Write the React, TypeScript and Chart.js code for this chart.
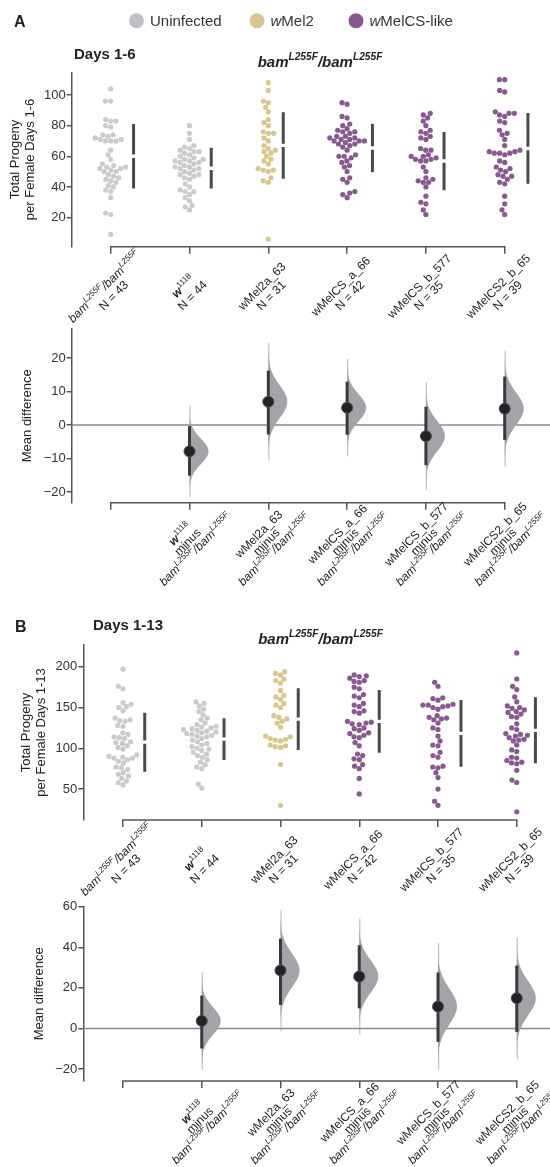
import React, { useEffect, useRef } from "react";
import { Chart, registerables } from "chart.js";
Chart.register(...registerables);

const FONT = '"Liberation Sans", Arial, Helvetica, sans-serif';
const AXIS = "#555555";
const TEXT = "#222222";

// ---------------- data ----------------
const groupNames = ["bam", "w1118", "wMel2a_63", "wMelCS_a_66", "wMelCS_b_577", "wMelCS2_b_65"];
const groupN = [43, 44, 31, 42, 35, 39];
const groupColors = ["#cbcbcd", "#cbcbcd", "#d8c68d", "#87598f", "#87598f", "#87598f"];
const legendNames = ["Uninfected", "wMel2", "wMelCS-like"];
const legendColors = ["#bfc0c4", "#d6c692", "#86588c"];

// Panel A: total progeny per female, days 1-6
const aBam = [104, 96, 96, 84, 83, 83, 80, 79, 74, 74, 73, 72, 71, 71, 70, 70, 70, 64, 61, 58, 55, 54, 53, 53, 52, 52, 51, 50, 50, 48, 47, 46, 45, 44, 43, 41, 40, 38, 37, 33, 23, 22, 9];
const aW1118 = [80, 75, 71, 67, 66, 65, 64, 63, 63, 62, 61, 60, 59, 58, 58, 57, 57, 56, 56, 55, 54, 53, 53, 52, 52, 51, 50, 49, 48, 48, 47, 46, 45, 42, 40, 38, 37, 37, 35, 33, 31, 28, 27, 25];
const aWMel2a = [108, 103, 96, 95, 92, 89, 84, 82, 80, 76, 75, 75, 72, 70, 67, 65, 64, 63, 62, 60, 58, 57, 55, 52, 51, 51, 50, 46, 44, 43, 6];
const aWMelCSa = [95, 94, 86, 85, 81, 80, 78, 77, 76, 76, 75, 73, 73, 72, 72, 71, 71, 70, 70, 70, 69, 68, 68, 67, 66, 64, 61, 60, 60, 59, 57, 56, 54, 53, 50, 46, 45, 43, 37, 36, 35, 33];
const aWMelCSb = [88, 87, 85, 83, 80, 77, 76, 75, 73, 72, 71, 65, 64, 64, 61, 60, 60, 59, 58, 58, 57, 57, 53, 50, 46, 45, 44, 43, 43, 40, 34, 30, 29, 25, 22];
const aWMelCS2 = [110, 110, 103, 102, 89, 88, 88, 87, 86, 83, 82, 77, 75, 74, 71, 67, 64, 63, 63, 62, 62, 62, 61, 57, 56, 53, 52, 51, 50, 48, 47, 47, 45, 43, 42, 34, 29, 25, 22];
const aMeans = [60.0, 52.2, 67.1, 65.4, 56.9, 65.1];
const aSds = [21.1, 13.3, 21.7, 15.8, 19.0, 23.1];
const aDiff = [-7.85, 7.0, 5.2, -3.3, 4.9];
const aCiLow = [-15.1, -2.8, -2.9, -12.0, -4.4];
const aCiHigh = [-0.3, 16.3, 13.0, 5.5, 14.5];

// Panel B: total progeny per female, days 1-13
const bBam = [197, 176, 173, 156, 154, 151, 150, 146, 137, 135, 134, 133, 128, 127, 119, 117, 114, 113, 112, 108, 107, 106, 103, 101, 99, 92, 90, 89, 88, 88, 86, 84, 82, 77, 76, 74, 70, 68, 66, 63, 60, 58, 55];
const bW1118 = [157, 155, 152, 148, 145, 141, 137, 135, 131, 129, 127, 126, 125, 124, 123, 122, 121, 120, 119, 118, 117, 116, 115, 114, 112, 110, 108, 106, 104, 102, 100, 99, 97, 95, 93, 91, 89, 86, 83, 80, 77, 75, 56, 51];
const bWMel2a = [194, 192, 190, 185, 183, 180, 171, 165, 163, 160, 155, 153, 150, 140, 138, 136, 133, 131, 126, 115, 114, 112, 111, 110, 109, 104, 103, 102, 101, 80, 30];
const bWMelCSa = [190, 189, 188, 186, 183, 182, 181, 175, 173, 166, 164, 162, 155, 153, 151, 146, 145, 143, 133, 132, 131, 130, 129, 125, 124, 122, 119, 118, 116, 114, 113, 107, 103, 93, 91, 87, 86, 80, 78, 75, 63, 44];
const bWMelCSb = [181, 176, 162, 161, 159, 154, 153, 153, 152, 151, 150, 148, 140, 138, 137, 136, 135, 131, 125, 123, 115, 109, 104, 103, 95, 91, 89, 78, 77, 76, 70, 64, 50, 35, 30];
const bWMelCS2 = [217, 185, 176, 172, 163, 157, 152, 150, 149, 147, 145, 144, 142, 139, 138, 130, 125, 123, 118, 117, 116, 115, 113, 111, 110, 109, 104, 98, 96, 89, 88, 85, 83, 82, 81, 73, 61, 58, 22];
const bMeans = [107.5, 111.2, 135.7, 133.0, 118.3, 122.0];
const bSds = [36.2, 25.6, 37.8, 38.4, 40.9, 40.5];
const bDiff = [3.7, 28.6, 25.6, 10.8, 14.9];
const bCiLow = [-9.9, 11.6, 9.9, -6.6, -1.7];
const bCiHigh = [16.2, 44.3, 41.0, 27.6, 31.0];

// tick values
const aSwarmTicks = [20, 40, 60, 80, 100];
const aDiffTicks = [-20, -10, 0, 10, 20];
const bSwarmTicks = [50, 100, 150, 200];
const bDiffTicks = [-20, 0, 20, 40, 60];

// ---------------- rich text helpers ----------------
type Seg = { t: string; i?: boolean; b?: boolean; sup?: boolean };
const bamSegs: Seg[] = [
  { t: "bam", i: true }, { t: "L255F", i: true, sup: true }, { t: "/", i: true },
  { t: "bam", i: true }, { t: "L255F", i: true, sup: true },
];
const nameSegs: Seg[][] = [
  bamSegs,
  [{ t: "w", i: true, b: true }, { t: "1118", sup: true }],
  [{ t: groupNames[2] }],
  [{ t: groupNames[3] }],
  [{ t: groupNames[4] }],
  [{ t: groupNames[5] }],
];

function fontOf(s: Seg, size: number) {
  const sz = s.sup ? Math.round(size * 0.68 * 10) / 10 : size;
  return `${s.i ? "italic " : ""}${s.b ? "bold " : ""}${sz}px ${FONT}`;
}
function richWidth(ctx: CanvasRenderingContext2D, segs: Seg[], size: number) {
  let w = 0;
  for (const s of segs) { ctx.font = fontOf(s, size); w += ctx.measureText(s.t).width; }
  return w;
}
function drawRich(ctx: CanvasRenderingContext2D, segs: Seg[], x: number, base: number, size: number, align: string, color: string) {
  const w = richWidth(ctx, segs, size);
  let cx = align === "left" ? x : align === "center" ? x - w / 2 : x - w;
  ctx.textAlign = "left";
  ctx.textBaseline = "alphabetic";
  ctx.fillStyle = color;
  for (const s of segs) {
    ctx.font = fontOf(s, size);
    ctx.fillText(s.t, cx, s.sup ? base - size * 0.42 : base);
    cx += ctx.measureText(s.t).width;
  }
}
function drawRotated(ctx: CanvasRenderingContext2D, lines: Seg[][], cx: number, cy: number, size: number, lh: number) {
  ctx.save();
  ctx.translate(cx, cy);
  ctx.rotate(-Math.PI / 4);
  const n = lines.length;
  lines.forEach((segs, k) => {
    const yc = (k - (n - 1) / 2) * lh;
    drawRich(ctx, segs, 0, yc + size * 0.35, size, "center", TEXT);
  });
  ctx.restore();
}

// beeswarm layout (pixel space), returns horizontal offsets in px
function swarm(ys: number[], d: number): number[] {
  const order = ys.map((_, i) => i).sort((a, b) => ys[a] - ys[b]);
  const placed: { x: number; y: number }[] = [];
  const out = new Array(ys.length).fill(0);
  for (const i of order) {
    const y = ys[i];
    const near = placed.filter((p) => Math.abs(p.y - y) < d);
    const cands = [0];
    for (const p of near) {
      const dx = Math.sqrt(d * d - (p.y - y) ** 2);
      cands.push(p.x + dx, p.x - dx);
    }
    cands.sort((a, b) => Math.abs(a) - Math.abs(b) || a - b);
    let chosen = 0;
    for (const c of cands) {
      if (near.every((p) => (p.x - c) ** 2 + (p.y - y) ** 2 >= d * d - 1e-6)) { chosen = c; break; }
    }
    placed.push({ x: chosen, y });
    out[i] = chosen;
  }
  return out;
}

const fmtTick = (v: any) => (Number(v) < 0 ? "\u2212" + Math.abs(Number(v)) : String(v));

type Frame = {
  canvasTop: number; canvasH: number;
  axisLeft: number; tick0: number; step: number;
  plotTop: number; plotBottom: number;
  yMin: number; yMax: number; yTicks: number[];
  yTitle: string | string[]; yTitlePad: number;
};
const RIGHT = 542;

function baseOptions(f: Frame) {
  const xMin = (f.axisLeft - f.tick0) / f.step;
  const xMax = (RIGHT - f.tick0) / f.step;
  return {
    responsive: false,
    animation: false as const,
    devicePixelRatio: 1,
    events: [] as any[],
    layout: {
      autoPadding: false,
      padding: { left: 0, right: 550 - RIGHT, top: f.plotTop - f.canvasTop, bottom: f.canvasH - (f.plotBottom - f.canvasTop) - 8 },
    },
    plugins: { legend: { display: false }, tooltip: { enabled: false }, title: { display: false } },
    scales: {
      x: {
        type: "linear" as const, min: xMin, max: xMax,
        afterBuildTicks: (s: any) => { s.ticks = [0, 1, 2, 3, 4, 5].map((v) => ({ value: v })); },
        afterFit: (s: any) => { s.height = 8; },
        ticks: { display: false },
        grid: { drawOnChartArea: false, drawTicks: true, tickLength: 7, color: AXIS, lineWidth: 1.5 },
        border: { display: false },
      },
      y: {
        type: "linear" as const, min: f.yMin, max: f.yMax,
        afterBuildTicks: (s: any) => { s.ticks = f.yTicks.map((v) => ({ value: v })); },
        afterFit: (s: any) => { s.width = f.axisLeft; },
        ticks: { font: { family: FONT, size: 13 }, color: "#333", padding: 1, callback: fmtTick },
        grid: { drawOnChartArea: false, drawTicks: true, tickLength: 5, color: AXIS, lineWidth: 1.5 },
        border: { display: true, color: AXIS, width: 1.5 },
        title: { display: true, text: f.yTitle, font: { family: FONT, size: 13, lineHeight: 1.15 }, color: TEXT, padding: { top: f.yTitlePad, bottom: 0 } },
      },
    },
  };
}

function drawXSpine(chart: any) {
  const ctx = chart.ctx as CanvasRenderingContext2D;
  const xs = chart.scales.x;
  const y = chart.chartArea.bottom;
  ctx.save();
  ctx.strokeStyle = AXIS;
  ctx.lineWidth = 1.5;
  ctx.beginPath();
  ctx.moveTo(xs.getPixelForValue(0) - 0.75, y);
  ctx.lineTo(xs.getPixelForValue(5) + 0.75, y);
  ctx.stroke();
  ctx.restore();
}

function buildSwarm(canvas: HTMLCanvasElement, f: Frame, series: number[][], means: number[], sds: number[], header: (ctx: CanvasRenderingContext2D) => void) {
  const pyu = (f.plotBottom - f.plotTop) / (f.yMax - f.yMin);
  const offsets = series.map((vals) => swarm(vals.map((v) => v * pyu), 5.3));
  const barX = offsets.map((o, i) => i + (Math.max(...o) + 8) / f.step);
  const datasets = series.map((vals, i) => ({
    data: vals.map((v, j) => ({ x: i + offsets[i][j] / f.step, y: v })),
    pointRadius: 2.6,
    pointBackgroundColor: groupColors[i],
    pointBorderWidth: 0,
    clip: false as const,
  }));
  const deco = {
    id: "swarmDeco",
    afterDatasetsDraw(chart: any) {
      const ctx = chart.ctx as CanvasRenderingContext2D;
      const xs = chart.scales.x, ys = chart.scales.y;
      ctx.save();
      ctx.strokeStyle = "#4a4a4a";
      ctx.lineWidth = 3;
      ctx.lineCap = "butt";
      means.forEach((m, i) => {
        const x = xs.getPixelForValue(barX[i]);
        const yt = ys.getPixelForValue(m + sds[i]);
        const ym = ys.getPixelForValue(m);
        const yb = ys.getPixelForValue(m - sds[i]);
        ctx.beginPath();
        ctx.moveTo(x, yt); ctx.lineTo(x, ym - 1.7);
        ctx.moveTo(x, ym + 1.7); ctx.lineTo(x, yb);
        ctx.stroke();
      });
      ctx.restore();
    },
    afterDraw(chart: any) {
      const ctx = chart.ctx as CanvasRenderingContext2D;
      drawXSpine(chart);
      const xs = chart.scales.x;
      const yb = chart.chartArea.bottom;
      for (let i = 0; i < 6; i++) {
        drawRotated(ctx, [nameSegs[i], [{ t: "N = " + groupN[i] }]], xs.getPixelForValue(i) - 2, yb + 44, 12, 13);
      }
      header(ctx);
    },
  };
  return new Chart(canvas, { type: "scatter", data: { datasets }, options: baseOptions(f) as any, plugins: [deco] });
}

function buildDiff(canvas: HTMLCanvasElement, f: Frame, diff: number[], lo: number[], hi: number[]) {
  const datasets = [{
    data: diff.map((d, k) => ({ x: k + 1, y: d })),
    pointRadius: 5.5,
    pointBackgroundColor: "#232323",
    pointBorderColor: "#4d4d4d",
    pointBorderWidth: 1,
    clip: false as const,
  }];
  const deco = {
    id: "diffDeco",
    beforeDatasetsDraw(chart: any) {
      const ctx = chart.ctx as CanvasRenderingContext2D;
      const xs = chart.scales.x, ys = chart.scales.y;
      const ca = chart.chartArea;
      ctx.save();
      // zero line
      ctx.strokeStyle = "#8a8a8a";
      ctx.lineWidth = 1.5;
      ctx.beginPath();
      ctx.moveTo(ca.left, ys.getPixelForValue(0));
      ctx.lineTo(550, ys.getPixelForValue(0));
      ctx.stroke();
      diff.forEach((m, k) => {
        const x = xs.getPixelForValue(k + 1);
        const sd = (hi[k] - lo[k]) / 3.92;
        const a = m - 3.6 * sd, b = m + 3.6 * sd;
        // thin tail
        ctx.strokeStyle = "rgba(150,150,156,0.55)";
        ctx.lineWidth = 1.2;
        ctx.beginPath();
        ctx.moveTo(x + 0.6, ys.getPixelForValue(a));
        ctx.lineTo(x + 0.6, ys.getPixelForValue(b));
        ctx.stroke();
        // half violin
        ctx.fillStyle = "#a3a3a8";
        ctx.beginPath();
        ctx.moveTo(x, ys.getPixelForValue(a));
        const n = 90;
        for (let s = 0; s <= n; s++) {
          const v = a + ((b - a) * s) / n;
          const g = Math.exp(-0.5 * ((v - m) / sd) ** 2);
          ctx.lineTo(x + g * 19, ys.getPixelForValue(v));
        }
        ctx.lineTo(x, ys.getPixelForValue(b));
        ctx.closePath();
        ctx.fill();
        // CI line
        ctx.strokeStyle = "#3a3a3a";
        ctx.lineWidth = 3;
        ctx.beginPath();
        ctx.moveTo(x, ys.getPixelForValue(lo[k]));
        ctx.lineTo(x, ys.getPixelForValue(hi[k]));
        ctx.stroke();
      });
      ctx.restore();
    },
    afterDraw(chart: any) {
      const ctx = chart.ctx as CanvasRenderingContext2D;
      drawXSpine(chart);
      const xs = chart.scales.x;
      const yb = chart.chartArea.bottom;
      for (let i = 1; i < 6; i++) {
        drawRotated(ctx, [nameSegs[i], [{ t: "minus" }], bamSegs], xs.getPixelForValue(i) - 2, yb + 39, 12, 11);
      }
    },
  };
  return new Chart(canvas, { type: "scatter", data: { datasets }, options: baseOptions(f) as any, plugins: [deco] });
}

const boldBam: Seg[] = bamSegs.map((s) => ({ ...s, b: true }));

const FA1: Frame = { canvasTop: 0, canvasH: 340, axisLeft: 71.7, tick0: 110.7, step: 78.8, plotTop: 72.3, plotBottom: 246.7, yMin: 1.0, yMax: 114.8, yTicks: aSwarmTicks, yTitle: ["Total Progeny", "per Female Days 1-6"], yTitlePad: 7.5 };
const FA2: Frame = { canvasTop: 320, canvasH: 300, axisLeft: 71.7, tick0: 110.7, step: 78.8, plotTop: 328.3, plotBottom: 502.7, yMin: -23.2, yMax: 28.8, yTicks: aDiffTicks, yTitle: "Mean difference", yTitlePad: 19.5 };
const FB1: Frame = { canvasTop: 600, canvasH: 320, axisLeft: 83.3, tick0: 123, step: 78.75, plotTop: 645, plotBottom: 820, yMin: 12.0, yMax: 226.7, yTicks: bSwarmTicks, yTitle: ["Total Progeny", "per Female Days 1-13"], yTitlePad: 19.2 };
const FB2: Frame = { canvasTop: 880, canvasH: 287, axisLeft: 83.3, tick0: 123, step: 78.75, plotTop: 906.7, plotBottom: 1081, yMin: -25.9, yMax: 60, yTicks: bDiffTicks, yTitle: "Mean difference", yTitlePad: 32 };

function headerA(ctx: CanvasRenderingContext2D) {
  ctx.save();
  ctx.fillStyle = TEXT;
  ctx.textAlign = "left";
  ctx.textBaseline = "alphabetic";
  ctx.font = `bold 16px ${FONT}`;
  ctx.fillText("A", 14, 27);
  const lx = [136.5, 257, 356];
  const legendSegs: Seg[][] = [
    [{ t: legendNames[0] }],
    [{ t: "w", i: true }, { t: legendNames[1].slice(1) }],
    [{ t: "w", i: true }, { t: legendNames[2].slice(1) }],
  ];
  lx.forEach((x, k) => {
    ctx.fillStyle = legendColors[k];
    ctx.beginPath();
    ctx.arc(x, 20.7, 7.5, 0, Math.PI * 2);
    ctx.fill();
    drawRich(ctx, legendSegs[k], x + 13.5, 26, 15, "left", "#333");
  });
  ctx.fillStyle = TEXT;
  ctx.font = `bold 15px ${FONT}`;
  ctx.fillText("Days 1-6", 74, 59);
  drawRich(ctx, boldBam, 320, 66.5, 15, "center", TEXT);
  ctx.restore();
}
function headerB(ctx: CanvasRenderingContext2D) {
  const off = FB1.canvasTop;
  ctx.save();
  ctx.fillStyle = TEXT;
  ctx.textAlign = "left";
  ctx.textBaseline = "alphabetic";
  ctx.font = `bold 16px ${FONT}`;
  ctx.fillText("B", 15, 632 - off);
  ctx.font = `bold 15px ${FONT}`;
  ctx.fillText("Days 1-13", 93, 630 - off);
  drawRich(ctx, boldBam, 320.5, 643.5 - off, 15, "center", TEXT);
  ctx.restore();
}

export default function App() {
  const r1 = useRef<HTMLCanvasElement>(null);
  const r2 = useRef<HTMLCanvasElement>(null);
  const r3 = useRef<HTMLCanvasElement>(null);
  const r4 = useRef<HTMLCanvasElement>(null);
  useEffect(() => {
    const charts = [
      buildSwarm(r1.current!, FA1, [aBam, aW1118, aWMel2a, aWMelCSa, aWMelCSb, aWMelCS2], aMeans, aSds, headerA),
      buildDiff(r2.current!, FA2, aDiff, aCiLow, aCiHigh),
      buildSwarm(r3.current!, FB1, [bBam, bW1118, bWMel2a, bWMelCSa, bWMelCSb, bWMelCS2], bMeans, bSds, headerB),
      buildDiff(r4.current!, FB2, bDiff, bCiLow, bCiHigh),
    ];
    return () => charts.forEach((c) => c.destroy());
  }, []);
  const cs = (f: Frame): React.CSSProperties => ({ position: "absolute", left: 0, top: f.canvasTop, width: 550, height: f.canvasH });
  return (
    <div style={{ position: "absolute", left: 0, top: 0, width: 550, height: 1167, background: "#fff", overflow: "hidden" }}>
      <canvas ref={r1} width={550} height={FA1.canvasH} style={cs(FA1)} />
      <canvas ref={r2} width={550} height={FA2.canvasH} style={cs(FA2)} />
      <canvas ref={r3} width={550} height={FB1.canvasH} style={cs(FB1)} />
      <canvas ref={r4} width={550} height={FB2.canvasH} style={cs(FB2)} />
    </div>
  );
}
